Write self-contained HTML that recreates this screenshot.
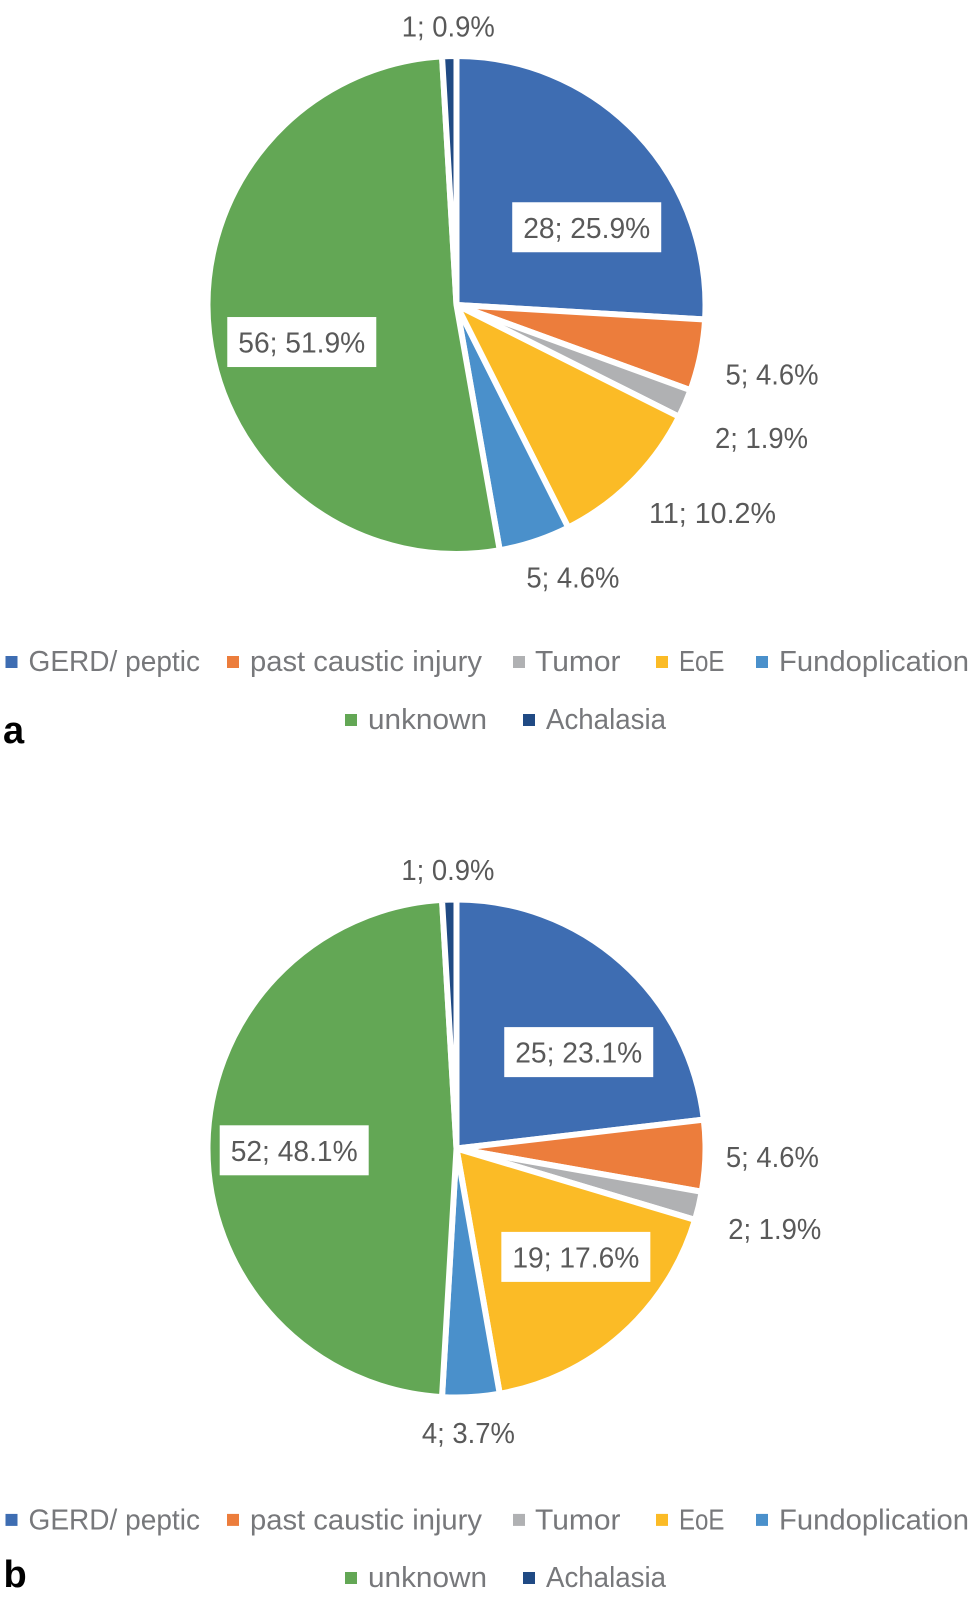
<!DOCTYPE html>
<html>
<head>
<meta charset="utf-8">
<title>Pie charts a and b</title>
<style>
html,body{margin:0;padding:0;background:#fff;}
svg{display:block;}
text{font-family:"Liberation Sans",sans-serif;fill:#595959;}
</style>
</head>
<body>
<svg id="figure" xmlns="http://www.w3.org/2000/svg" width="971" height="1597" viewBox="0 0 971 1597">
  <rect x="0" y="0" width="971" height="1597" fill="#ffffff"/>
  <text x="3" y="743" font-size="38" font-weight="bold" style="fill:#000">a</text>
  <text x="3.5" y="1587" font-size="38" font-weight="bold" style="fill:#000">b</text>
</svg>
<script>
const categories = ['GERD/ peptic', 'past caustic injury', 'Tumor', 'EoE', 'Fundoplication', 'unknown', 'Achalasia'];
const valuesA = [28, 5, 2, 11, 5, 56, 1];
const valuesB = [25, 5, 2, 19, 4, 52, 1];

const sliceColors = ['#3e6db2', '#ec7d3c', '#b0b1b3', '#fbbb26', '#4a90cb', '#63a755', '#204a84'];
const NS = 'http://www.w3.org/2000/svg';
const svg = document.getElementById('figure');
const VIS_R = 246, STROKE = 6, CX = 456.5;
const LABEL_R = 247.5, LABEL_CX = 457;

const panels = [
  { id: 'a', values: valuesA, cy: 305, labelCy: 305.5, legendY: [671, 729], swatchY: [656, 714],
    offsets: [[-50.3, 91.6], [72.6, 18.5], [77.2, 33.8], [80.5, 32], [38, 36.8], [90.6, 7.8], [-1.5, -32]],
    boxed: [true, false, false, false, false, true, false] },
  { id: 'b', values: valuesB, cy: 1148.5, labelCy: 1150, legendY: [1529.5, 1587], swatchY: [1513.9, 1572],
    offsets: [[-42.8, 87], [68, -0.8], [76.9, 21.6], [-45.7, -78], [-3, 35.2], [84.7, 0.3], [-1.9, -33.2]],
    boxed: [true, false, false, true, false, true, false] }
];

const legendLayout = [
  { row: 0, sx: 5.5, tx: 28.5, tw: 171.5 },
  { row: 0, sx: 227, tx: 250, tw: 232 },
  { row: 0, sx: 513, tx: 535, tw: 85.5 },
  { row: 0, sx: 656, tx: 679, tw: 45.5 },
  { row: 0, sx: 756, tx: 779, tw: 190 },
  { row: 1, sx: 345, tx: 368, tw: 119 },
  { row: 1, sx: 523, tx: 546, tw: 120 }
];

function polar(cx, cy, r, deg) {
  const t = deg * Math.PI / 180;
  return [cx + r * Math.sin(t), cy - r * Math.cos(t)];
}
function slicePath(cx, cy, r, a0, a1) {
  const p0 = polar(cx, cy, r, a0), p1 = polar(cx, cy, r, a1);
  const large = (a1 - a0) > 180 ? 1 : 0;
  return 'M' + cx + ' ' + cy + 'L' + p0[0] + ' ' + p0[1] + 'A' + r + ' ' + r + ' 0 ' + large + ' 1 ' + p1[0] + ' ' + p1[1] + 'Z';
}
function labelWidth(str) {
  const digits = str.replace(/[^0-9]/g, '').length;
  return 42 + 17 * digits;
}

panels.forEach(function (panel) {
  const total = panel.values.reduce(function (s, v) { return s + v; }, 0);
  let angle = 0;
  const slices = [];
  panel.values.forEach(function (v, i) {
    const a0 = angle, a1 = angle + v / total * 360;
    angle = a1;
    slices.push({ v: v, i: i, a0: a0, a1: a1 });
    const path = document.createElementNS(NS, 'path');
    path.setAttribute('d', slicePath(CX, panel.cy, VIS_R + STROKE / 2, a0, a1));
    path.setAttribute('fill', sliceColors[i]);
    path.setAttribute('stroke', '#ffffff');
    path.setAttribute('stroke-width', STROKE);
    
    
    svg.appendChild(path);
  });
  slices.forEach(function (s) {
    const mid = (s.a0 + s.a1) / 2;
    const rim = polar(LABEL_CX, panel.labelCy, LABEL_R, mid);
    const off = panel.offsets[s.i];
    const x = rim[0] + off[0], y = rim[1] + off[1];
    const str = s.v + '; ' + (s.v / total * 100).toFixed(1) + '%';
    const w = labelWidth(str);
    if (panel.boxed[s.i]) {
      const box = document.createElementNS(NS, 'rect');
      box.setAttribute('x', x - w / 2 - 11);
      box.setAttribute('y', y - 25);
      box.setAttribute('width', w + 22);
      box.setAttribute('height', 50);
      box.setAttribute('fill', '#ffffff');
      
      
      svg.appendChild(box);
    }
    const t = document.createElementNS(NS, 'text');
    t.setAttribute('x', x - w / 2);
    t.setAttribute('y', y + 10.5);
    t.setAttribute('font-size', '29');
    t.setAttribute('textLength', w);
    t.setAttribute('lengthAdjust', 'spacingAndGlyphs');
    
    
    t.textContent = str;
    svg.appendChild(t);
  });
  categories.forEach(function (name, i) {
    const lay = legendLayout[i];
    const sw = document.createElementNS(NS, 'rect');
    sw.setAttribute('x', lay.sx);
    sw.setAttribute('y', panel.swatchY[lay.row]);
    sw.setAttribute('width', 12);
    sw.setAttribute('height', 12);
    sw.setAttribute('fill', sliceColors[i]);
    
    
    svg.appendChild(sw);
    const t = document.createElementNS(NS, 'text');
    t.setAttribute('x', lay.tx);
    t.setAttribute('y', panel.legendY[lay.row]);
    t.setAttribute('font-size', '29');
    t.setAttribute('textLength', lay.tw);
    t.setAttribute('lengthAdjust', 'spacingAndGlyphs');
    t.setAttribute('style', 'fill:#77787b');
    
    
    t.textContent = name;
    svg.appendChild(t);
  });
});
</script>
</body>
</html>
